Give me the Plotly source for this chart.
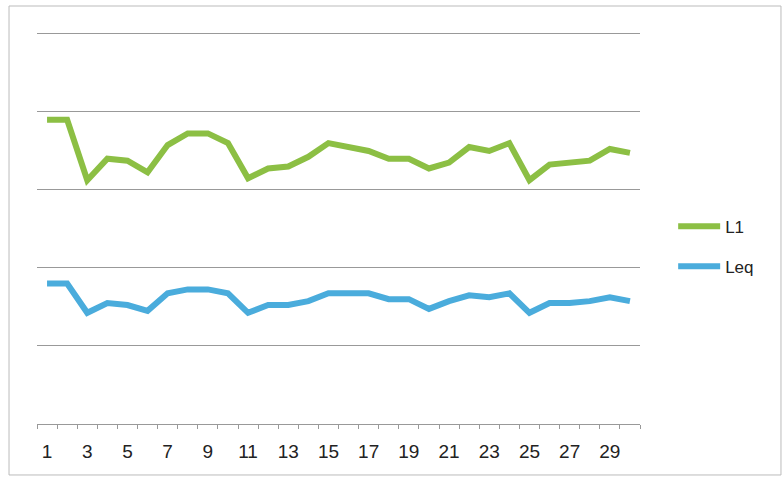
import plotly.graph_objects as go

days = list(range(1, 31))
tick_labels = [str(d) for d in range(1, 30, 2)]
L1 = [78, 78, 62.5, 68, 67.5, 64.5, 71.5, 74.5, 74.5, 72, 63, 65.5, 66, 68.5, 72,
      71, 70, 68, 68, 65.5, 67, 71, 70, 72, 62.5, 66.5, 67, 67.5, 70.5, 69.5]
Leq = [36, 36, 28.5, 31, 30.5, 29, 33.5, 34.5, 34.5, 33.5, 28.5, 30.5, 30.5, 31.5, 33.5,
       33.5, 33.5, 32, 32, 29.5, 31.5, 33, 32.5, 33.5, 28.5, 31, 31, 31.5, 32.5, 31.5]

fig = go.Figure()
fig.add_trace(go.Scatter(x=days, y=L1, mode="lines", name="L1",
                         line=dict(color="#8CBF44", width=6), legendgroup="a"))
fig.add_trace(go.Scatter(x=days, y=Leq, mode="lines", name="Leq",
                         line=dict(color="#4AACDC", width=6), legendgroup="b"))

fig.update_layout(
    width=784, height=477,
    margin=dict(l=37, r=144, t=30, b=53),
    paper_bgcolor="white", plot_bgcolor="white",
    font=dict(family="Liberation Sans, Arial, sans-serif", size=15, color="#222"),
    showlegend=True,
    legend=dict(x=1.055, y=0.45, xanchor="left", yanchor="middle",
                traceorder="grouped", tracegroupgap=15,
                font=dict(size=17, color="#222"), itemwidth=42,
                bgcolor="rgba(0,0,0,0)"),
    xaxis=dict(range=[0.5, 30.5], tickmode="array",
               tickvals=[int(t) for t in tick_labels], ticktext=tick_labels,
               ticks="", showgrid=False, zeroline=False,
               showline=True, linecolor="#999", linewidth=1,
               ticklabelstandoff=10,
               minor=dict(tickmode="linear", tick0=0.5, dtick=1, ticks="outside",
                          ticklen=4, tickcolor="#999", showgrid=False),
               tickfont=dict(size=19)),
    yaxis=dict(range=[0, 101], dtick=20, showticklabels=False, ticks="",
               showgrid=True, gridcolor="#999", gridwidth=1, zeroline=False,
               showline=False),
    shapes=[dict(type="rect", xref="paper", yref="paper",
                 x0=-0.0464, x1=1.2338, y0=-0.1294, y1=1.0609,
                 line=dict(color="#bbb", width=1), layer="below")],
)

fig.write_html("out.html")
